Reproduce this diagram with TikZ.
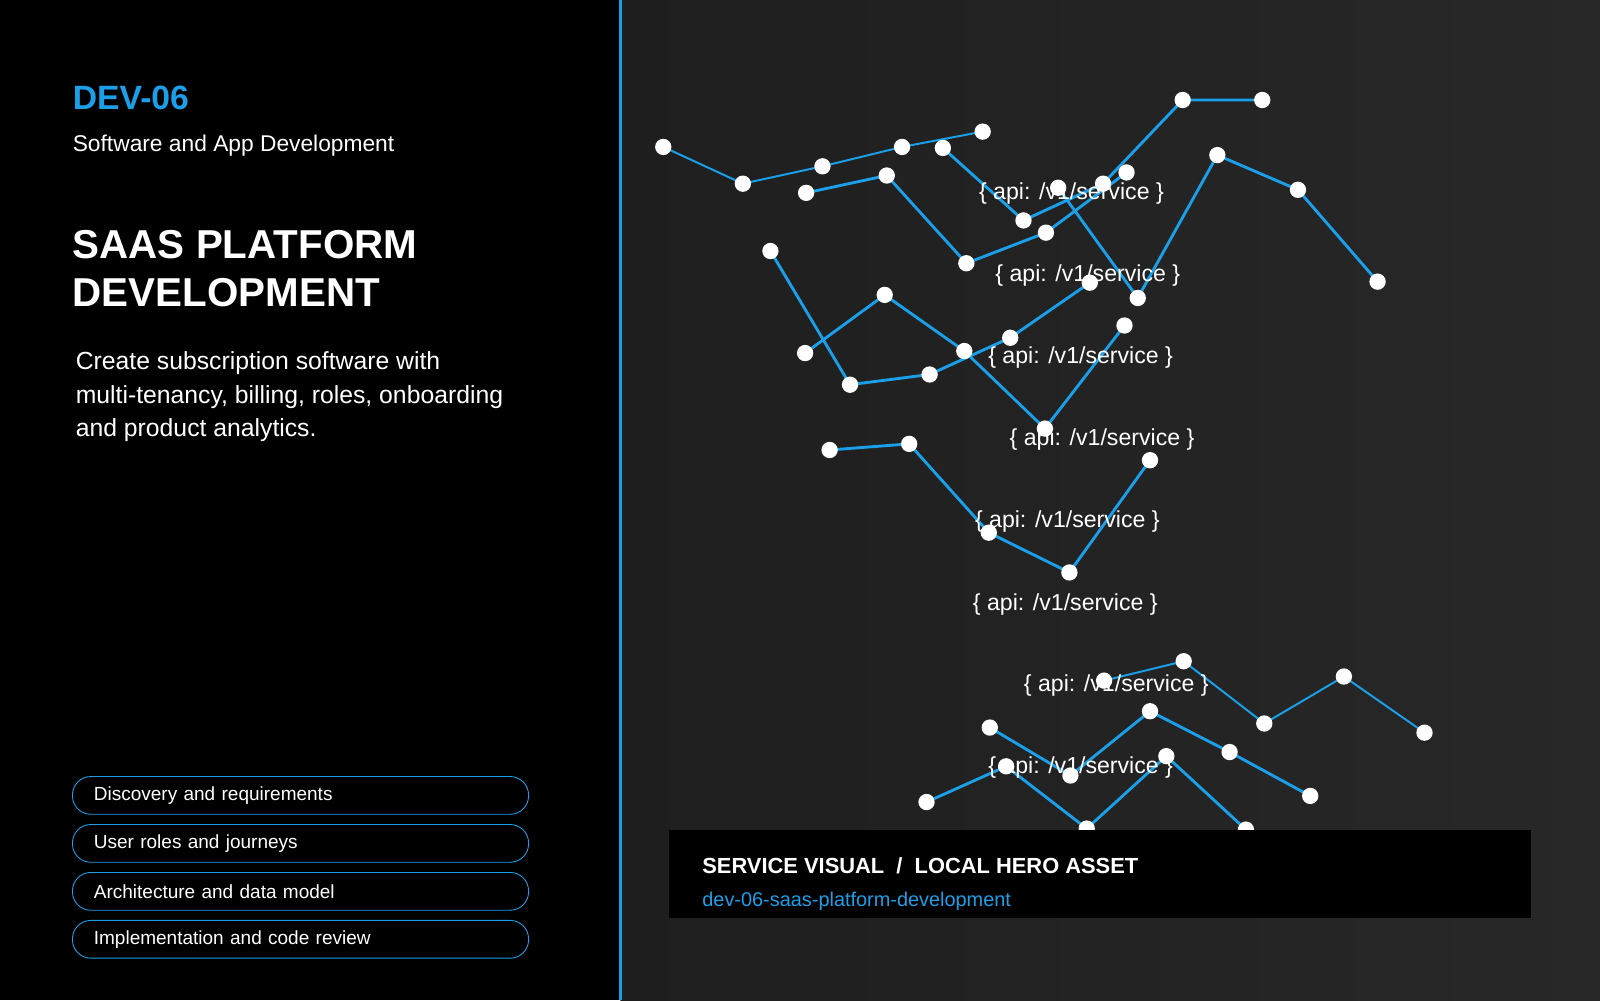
\documentclass[tikz,border=0pt]{standalone}
\usepackage{fontspec}
\setmainfont{Liberation Sans}
\begin{document}
\begin{tikzpicture}[x=0.02cm,y=-0.02cm]
\definecolor{accent}{HTML}{1A9FE8}
\tikzset{
  dot/.style={circle,fill=white,inner sep=0pt,minimum size=16*0.02cm},
  link/.style={draw=accent,line width=1.6pt},
  thin link/.style={draw=accent,line width=1.1pt},
  api/.style={text=white,font=\fontsize{12.9}{14}\selectfont,inner sep=0pt},
  pill/.style={draw=accent,line width=0.5pt,rounded corners=18*0.02cm,minimum height=37*0.02cm,text=white,font=\fontsize{10.6}{12}\selectfont,text width=405*0.02cm,inner xsep=21*0.02cm,inner ysep=0pt,align=left},
}
\useasboundingbox (0,0) rectangle (1568,980);
\fill[black] (0,0) rectangle (608,980);
\shade[left color={rgb,255:red,30;green,30;blue,30},right color={rgb,255:red,40;green,40;blue,40}] (608,0) rectangle (1568,980);
\draw[accent,line width=1.3pt] (608,0) -- (608,980);

% left panel
\node[anchor=base west,inner sep=0pt,text=accent,font=\fontsize{18.8}{22}\selectfont\bfseries] (code) at (71,107) {DEV-06};
\node[anchor=base west,inner sep=0pt,text=white,font=\fontsize{12.7}{14}\selectfont] (cat) at (71,148) {Software and App Development};
\node[anchor=north west,inner sep=0pt,text=white,font=\fontsize{22.5}{27}\selectfont\bfseries,align=left] (title) at (71,225) {SAAS PLATFORM\\DEVELOPMENT};
\node[anchor=north west,inner sep=0pt,text=white,font=\fontsize{13.8}{18.8}\selectfont,align=left] (desc) at (74,344) {Create subscription software with\\multi-tenancy, billing, roles, onboarding\\and product analytics.};
\node[pill] (p1) at (294.5,779.5) {Discovery and requirements};
\node[pill] (p2) at (294.5,826.5) {User roles and journeys};
\node[pill] (p3) at (294.5,873.5) {Architecture and data model};
\node[pill] (p4) at (294.5,920.5) {Implementation and code review};

% network points
\foreach \n/\x/\y in {
 a1/650/144,a2/728/180,a3/806/163,a4/884/144,a5/963/129,
 b1/924/145,b2/1003/216,b3/1081/180,b4/1159/98,b5/1237/98,
 c1/790/189,c2/869/172,c3/947/258,c4/1025/228,c5/1104/169,
 d1/1037/184,d2/1115/292,d3/1193/152,d4/1272/186,d5/1350/276,
 e1/755/246,e2/833/377,e3/911/367,e4/990/331,e5/1068/277,
 f1/789/346,f2/867/289,f3/945/344,f4/1024/420,f5/1102/319,
 g1/813/441,g2/891/435,g3/969/522,g4/1048/561,g5/1127/451,
 h1/1082/667,h2/1160/648,h3/1239/709,h4/1317/663,h5/1396/718,
 i1/970/713,i2/1049/760,i3/1127/697,i4/1205/737,i5/1284/780,
 j1/908/786,j2/986/751,j3/1065/812,j4/1143/741,j5/1221/813}
 {\coordinate (\n) at (\x,\y);}

\foreach \s/\w in {a/thin link,b/link,c/link,d/link,e/link,f/link,g/link,h/thin link,i/link,j/link}
 {\path[\w] (\s1) -- (\s2) -- (\s3) -- (\s4) -- (\s5);}

\foreach \t/\x/\y in {t1/1050/190,t2/1066/270,t3/1059/350,t4/1080/431,t5/1046/511,t6/1044/592,t7/1094/672,t8/1059/752}
 {\node[api] (\t) at (\x,\y) {\{ api: /v1/service \}};}

\foreach \s in {a,b,c,d,e,f,g,h,i,j}
 \foreach \k in {1,...,5}
  {\node[dot] (\s\k n) at (\s\k) {};}

% caption
\fill[black] (656,813) rectangle (1500,900);
\node[anchor=base west,inner sep=0pt,text=white,font=\fontsize{12.2}{14}\selectfont\bfseries] (cap) at (688,856) {SERVICE VISUAL\ \ /\ \ LOCAL HERO ASSET};
\node[anchor=base west,inner sep=0pt,text=accent,font=\fontsize{11.1}{13}\selectfont] (slug) at (688,888) {dev-06-saas-platform-development};
\end{tikzpicture}
\end{document}
